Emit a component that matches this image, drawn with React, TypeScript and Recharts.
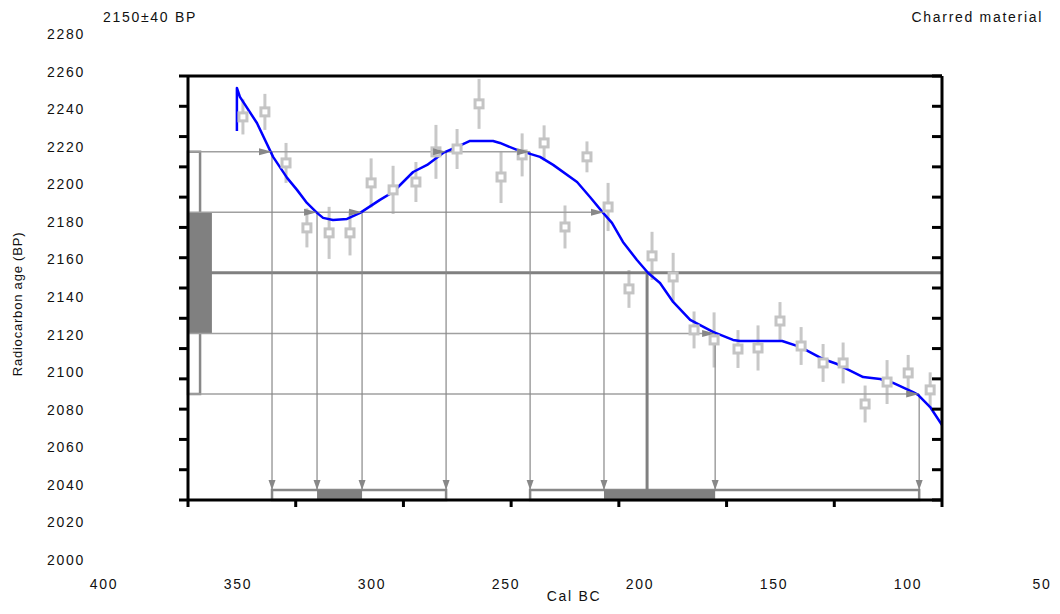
import React from "react";
import {
  ComposedChart, Line, Scatter, ErrorBar, XAxis, YAxis,
  ReferenceLine, ReferenceArea, ReferenceDot,
} from "recharts";

const W = 1060;
const H = 614;
const FONT = '"Liberation Sans", Arial, Helvetica, sans-serif';

// axis ticks
const yearTicks = [400, 350, 300, 250, 200, 150, 100, 50];
const bpTicks = [2000, 2020, 2040, 2060, 2080, 2100, 2120, 2140, 2160, 2180, 2200, 2220, 2240, 2260, 2280];

// calibration curve (cal BC, BP)
const curveYears = [377.3, 377.3, 375.9, 368.0, 360.5, 354.0, 349.4, 344.8, 340.1, 337.3, 332.7, 326.2, 320.1, 310.9, 304.8, 295.5, 289.0, 281.6, 275.1, 269.1, 258.4, 255.2, 247.3, 236.6, 230.5, 219.4, 213.4, 207.3, 203.2, 198.1, 191.6, 186.4, 180.9, 174.8, 166.9, 156.3, 147.0, 143.7, 124.2, 115.9, 105.2, 98.7, 86.6, 78.7, 72.7, 63.4, 61.1, 55.5, 50];
const curveBP = [2243.7, 2272.1, 2266.2, 2249.0, 2226.6, 2212.7, 2204.8, 2196.2, 2189.6, 2186.3, 2184.9, 2185.6, 2189.6, 2198.2, 2203.4, 2216.6, 2221.3, 2229.2, 2233.2, 2237.1, 2237.1, 2235.8, 2231.2, 2226.6, 2221.3, 2210.0, 2200.1, 2189.6, 2183.0, 2170.4, 2158.5, 2149.9, 2143.3, 2130.8, 2118.9, 2111.0, 2105.7, 2105.0, 2105.0, 2101.1, 2093.1, 2089.8, 2081.2, 2079.9, 2077.3, 2071.3, 2069.4, 2061.4, 2049.5];

// raw calibration measurements
const measYears = [374.5, 364.3, 354.5, 344.8, 334.5, 324.8, 315.0, 304.8, 294.2, 284.9, 275.1, 264.9, 254.7, 244.9, 234.7, 225.0, 214.8, 205.0, 195.3, 184.6, 174.8, 165.1, 155.8, 144.7, 135.4, 125.2, 115.4, 105.2, 95.9, 85.7, 75.5, 65.7, 55.5];
const measBP = [2253.0, 2256.3, 2222.6, 2179.7, 2176.4, 2176.4, 2209.4, 2204.8, 2210.0, 2229.9, 2231.8, 2261.6, 2213.3, 2227.9, 2235.8, 2180.3, 2226.6, 2193.5, 2139.4, 2161.2, 2147.3, 2112.3, 2105.7, 2099.7, 2100.4, 2118.2, 2101.7, 2090.5, 2090.5, 2063.4, 2077.9, 2083.9, 2072.7];
const measErr = [11.6, 11.9, 13.2, 12.9, 17.2, 14.9, 16.2, 15.9, 13.2, 17.8, 13.2, 16.5, 17.2, 14.2, 11.6, 14.2, 10.2, 15.9, 12.5, 15.9, 15.9, 12.2, 18.2, 12.5, 14.9, 12.5, 12.5, 12.5, 13.5, 12.2, 14.5, 11.9, 11.6];

// sample and calibrated result
const sampleBP = 2150;
const sampleErr = 40;
const sigma1Ranges = [[340.1, 319.2], [206.9, 155.3]];
const sigma2Ranges = [[361.0, 280.2], [241.2, 60.6]];
const medianYear = 186.9;
const interceptLevels = [sampleBP + 2 * sampleErr, sampleBP + sampleErr, sampleBP - sampleErr, sampleBP - 2 * sampleErr];
const interceptYears = [[361.0, 280.2, 241.2], [340.1, 319.2, 206.9], [155.3], [60.6]];

const curve = curveYears.map((year, i) => ({ year, bp: curveBP[i] }));
const measurements = measYears.map((year, i) => ({ year, bp: measBP[i], err: measErr[i] }));

// drawing sizes in data units
const BAR_H = 6.6;      // height of range bars at bottom (BP)
const BOX2_W = 5.6;     // 2-sigma box width at left (years)
const BOX1_W = 11.1;    // 1-sigma box width

const GRAY = "#888888";
const DARK = "#808080";

const RightArrow = (p: any) => (
  <polygon points={`${p.cx},${p.cy} ${p.cx - 13},${p.cy - 3.5} ${p.cx - 13},${p.cy + 3.5}`} fill={GRAY} />
);
const DownArrow = (p: any) => (
  <polygon points={`${p.cx},${p.cy} ${p.cx - 3.5},${p.cy - 10} ${p.cx + 3.5},${p.cy - 10}`} fill={GRAY} />
);
const Square = (p: any) => (
  <rect x={p.cx - 4} y={p.cy - 4} width={8} height={8} fill="#fff" stroke="#c4c4c4" strokeWidth={3} />
);
const NoLabel = () => <g />;

const frame = { stroke: "#000", strokeWidth: 3 };
const tickStyle = { fill: "#111", fontSize: 14, fontFamily: FONT };

export default function App() {
  return (
    <div style={{ position: "absolute", left: 0, top: 0, width: W, height: H, background: "#fff", fontFamily: FONT, letterSpacing: "1.7px" }}>
      {/* tick labels laid out on the outer frame */}
      <div style={{ position: "absolute", left: 0, top: 0 }}>
        <ComposedChart width={W} height={H} data={[]} margin={{ top: 34, right: 18, bottom: 24, left: 74 }}>
          <XAxis type="number" dataKey="year" domain={[50, 400]} reversed ticks={yearTicks} allowDataOverflow
            axisLine={false} tickLine={false} tickSize={0} tickMargin={19} height={30} tick={tickStyle} interval={0} />
          <YAxis type="number" dataKey="bp" domain={[2000, 2280]} ticks={bpTicks} allowDataOverflow
            axisLine={false} tickLine={false} tickSize={0} tickMargin={19} width={30} tick={tickStyle} interval={0} />
        </ComposedChart>
      </div>

      {/* plot */}
      <div style={{ position: "absolute", left: 0, top: 0 }}>
        <ComposedChart width={W} height={H} margin={{ top: 76, right: 118, bottom: 84, left: 168 }}>
          <XAxis xAxisId={0} type="number" dataKey="year" domain={[50, 400]} reversed ticks={yearTicks} allowDataOverflow
            tick={NoLabel} tickSize={7} height={30} axisLine={frame} tickLine={frame} interval={0} />
          <XAxis xAxisId="top" orientation="top" mirror type="number" domain={[50, 400]} reversed ticks={yearTicks} allowDataOverflow
            tick={NoLabel} tickSize={7} height={30} axisLine={frame} tickLine={frame} interval={0} />
          <YAxis yAxisId={0} type="number" dataKey="bp" domain={[2000, 2280]} ticks={bpTicks} allowDataOverflow
            tick={NoLabel} tickSize={9} width={20} axisLine={frame} tickLine={frame} interval={0} />
          <YAxis yAxisId="right" orientation="right" mirror type="number" domain={[2000, 2280]} ticks={bpTicks} allowDataOverflow
            tick={NoLabel} tickSize={10} width={20} axisLine={frame} tickLine={frame} interval={0} />

          <Scatter data={measurements} dataKey="bp" shape={Square} isAnimationActive={false}>
            <ErrorBar dataKey="err" direction="y" width={0} stroke="#c8c8c8" strokeWidth={3} isAnimationActive={false} />
          </Scatter>

          {interceptLevels.map((lvl, i) => {
            const ys = interceptYears[i];
            return (
              <ReferenceLine key={`h${i}`} segment={[{ x: 400, y: lvl }, { x: ys[ys.length - 1], y: lvl }]}
                stroke="#a0a0a0" strokeWidth={1.5} />
            );
          })}
          <ReferenceLine segment={[{ x: 400, y: sampleBP }, { x: 50, y: sampleBP }]} stroke={DARK} strokeWidth={3} />
          {interceptLevels.map((lvl, i) =>
            interceptYears[i].map((yr, j) => (
              <ReferenceLine key={`v${i}-${j}`} segment={[{ x: yr, y: lvl }, { x: yr, y: 2000 + BAR_H }]}
                stroke={GRAY} strokeWidth={1.2} />
            ))
          )}
          <ReferenceLine segment={[{ x: medianYear, y: sampleBP }, { x: medianYear, y: 2000 }]} stroke={DARK} strokeWidth={3} />

          {sigma2Ranges.map(([a, b], i) => (
            <ReferenceArea key={`r2${i}`} x1={a} x2={b} y1={2000} y2={2000 + BAR_H}
              fill="#fff" fillOpacity={1} stroke={GRAY} strokeWidth={2.5} />
          ))}
          {sigma1Ranges.map(([a, b], i) => (
            <ReferenceArea key={`r1${i}`} x1={a} x2={b} y1={2000} y2={2000 + BAR_H}
              fill={DARK} fillOpacity={1} stroke="none" />
          ))}
          <ReferenceArea x1={400} x2={400 - BOX2_W} y1={sampleBP - 2 * sampleErr} y2={sampleBP + 2 * sampleErr}
            fill="#fff" fillOpacity={1} stroke={GRAY} strokeWidth={2.5} />
          <ReferenceArea x1={400} x2={400 - BOX1_W} y1={sampleBP - sampleErr} y2={sampleBP + sampleErr}
            fill={DARK} fillOpacity={1} stroke="none" />

          {interceptLevels.map((lvl, i) =>
            interceptYears[i].map((yr, j) => (
              <ReferenceDot key={`ah${i}-${j}`} x={yr} y={lvl} r={0} shape={RightArrow} />
            ))
          )}
          {interceptLevels.map((lvl, i) =>
            interceptYears[i].map((yr, j) => (
              <ReferenceDot key={`av${i}-${j}`} x={yr} y={2000 + BAR_H} r={0} shape={DownArrow} />
            ))
          )}

          <Line data={curve} dataKey="bp" type="linear" stroke="#0000ff" strokeWidth={2.5} dot={false}
            strokeLinejoin="round" isAnimationActive={false} />
        </ComposedChart>
      </div>

      {/* titles */}
      <svg width={W} height={H} style={{ position: "absolute", left: 0, top: 0, pointerEvents: "none" }}>
        <text x={103} y={22} fontSize={14} fill="#111">2150±40 BP</text>
        <text x={1043} y={22} fontSize={14} fill="#111" textAnchor="end">Charred material</text>
        <text x={22} y={304} fontSize={13} fill="#111" textAnchor="middle" transform="rotate(-90 22 304)"
          style={{ letterSpacing: "0.8px" }}>Radiocarbon age (BP)</text>
        <text x={574} y={601} fontSize={14} fill="#111" textAnchor="middle">Cal BC</text>
      </svg>
    </div>
  );
}
